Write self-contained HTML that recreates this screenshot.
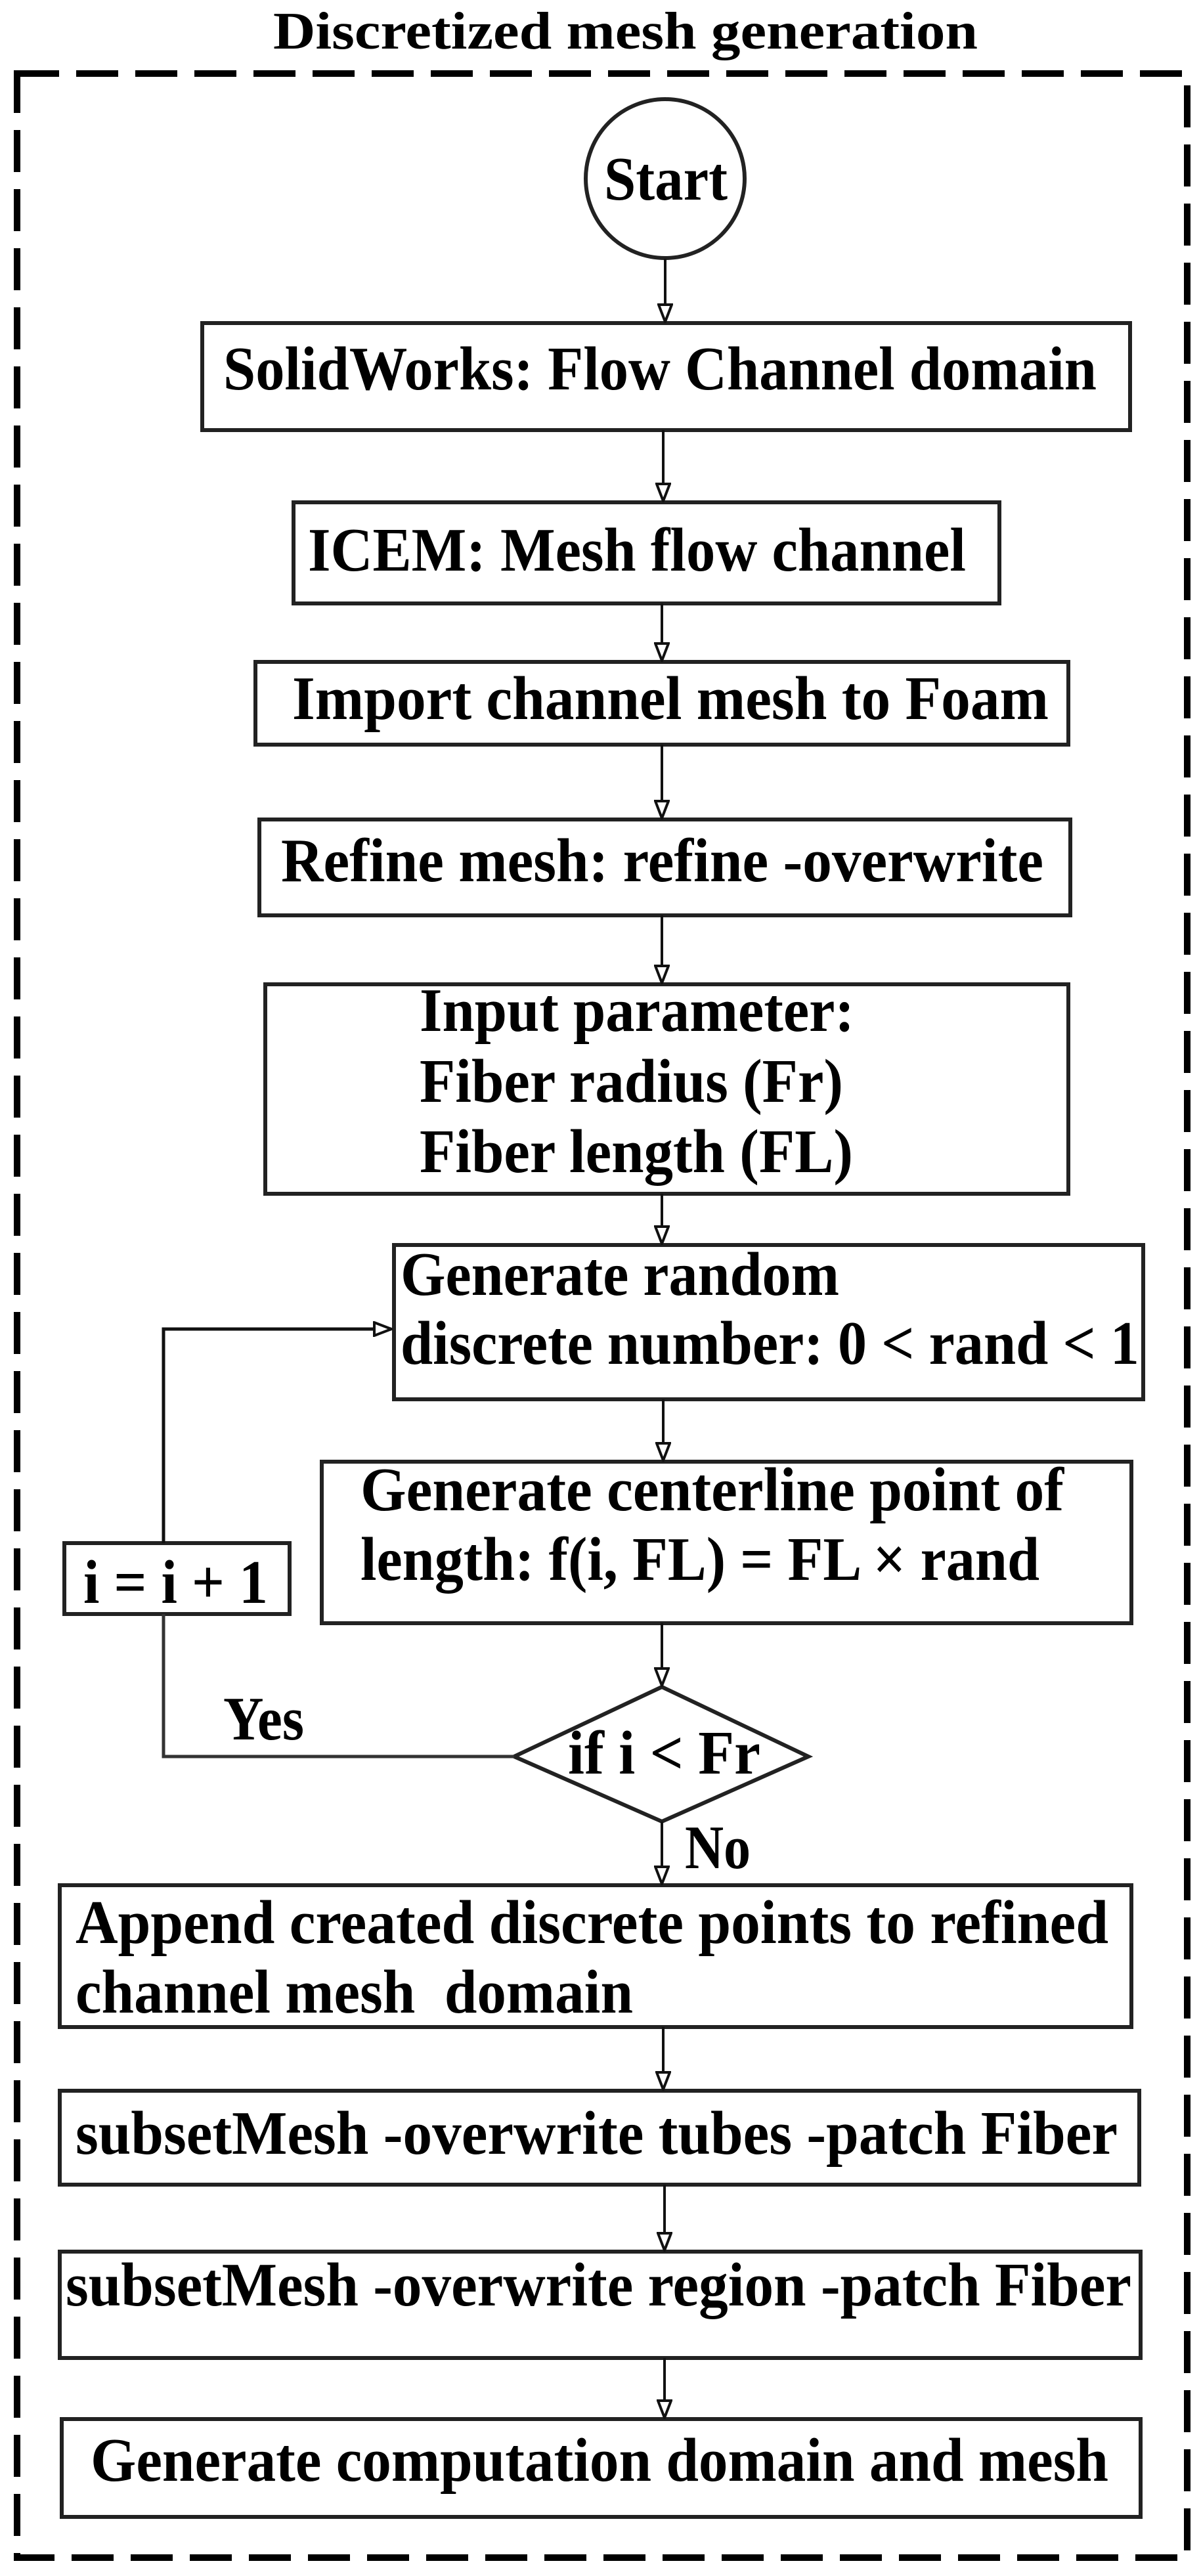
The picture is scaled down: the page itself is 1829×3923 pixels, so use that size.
<!DOCTYPE html>
<html><head><meta charset="utf-8"><style>html,body{margin:0;padding:0;background:#fff}svg{display:block}text{font-family:"Liberation Serif",serif;font-weight:bold;fill:#000}</style></head>
<body>
<svg width="1829" height="3923" viewBox="0 0 1829 3923" xmlns="http://www.w3.org/2000/svg">
<defs>
<marker id="h" markerWidth="30" markerHeight="24" refX="28" refY="12" orient="auto" markerUnits="userSpaceOnUse"><path d="M2,2 L28,12 L2,22 z" fill="#fff" stroke="#111" stroke-width="4"/></marker></defs>
<rect width="1829" height="3923" fill="#fff"/>
<text x="416" y="74" font-size="80" textLength="1073" lengthAdjust="spacingAndGlyphs">Discretized mesh generation</text>
<rect x="26" y="112" width="1782" height="3783" fill="none" stroke="#000" stroke-width="10" stroke-dasharray="64 26"/>
<g fill="none" stroke="#222" stroke-width="6">
<ellipse cx="1013" cy="272" rx="121" ry="121"/>
<rect x="308" y="492" width="1413" height="163"/>
<rect x="447" y="765" width="1075" height="154"/>
<rect x="389" y="1008" width="1238" height="126"/>
<rect x="395" y="1248" width="1235" height="146"/>
<rect x="404" y="1499" width="1223" height="319"/>
<rect x="600" y="1896" width="1141" height="235"/>
<rect x="490" y="2226" width="1233" height="246"/>
<rect x="98" y="2350" width="343" height="108"/>
<polygon points="1008,2569 1231,2675 1008,2774 783,2675"/>
<rect x="91" y="2871" width="1632" height="216"/>
<rect x="91" y="3184" width="1644" height="143"/>
<rect x="91" y="3429" width="1646" height="162"/>
<rect x="94" y="3684" width="1643" height="149"/>
</g>
<g stroke="#111" stroke-width="4" fill="none" marker-end="url(#h)">
<line x1="1013" y1="394" x2="1013" y2="490"/>
<line x1="1010" y1="655" x2="1010" y2="763"/>
<line x1="1008" y1="919" x2="1008" y2="1006"/>
<line x1="1008" y1="1134" x2="1008" y2="1246"/>
<line x1="1008" y1="1394" x2="1008" y2="1497"/>
<line x1="1008" y1="1818" x2="1008" y2="1894"/>
<line x1="1010" y1="2131" x2="1010" y2="2224"/>
<line x1="1008" y1="2472" x2="1008" y2="2567"/>
<line x1="1008" y1="2774" x2="1008" y2="2869"/>
<line x1="1010" y1="3087" x2="1010" y2="3182"/>
<line x1="1012" y1="3327" x2="1012" y2="3427"/>
<line x1="1012" y1="3591" x2="1012" y2="3682"/>
<polyline points="249,2350 249,2024 596,2024" stroke-width="5"/>
</g>
<polyline points="783,2675 249,2675 249,2458" fill="none" stroke="#333" stroke-width="5"/>
<text x="920" y="304" font-size="94" textLength="188" lengthAdjust="spacingAndGlyphs">Start</text>
<text x="340" y="593" font-size="94" textLength="1330" lengthAdjust="spacingAndGlyphs">SolidWorks: Flow Channel domain</text>
<text x="469" y="869" font-size="94" textLength="1002" lengthAdjust="spacingAndGlyphs">ICEM: Mesh flow channel</text>
<text x="445" y="1095" font-size="94" textLength="1152" lengthAdjust="spacingAndGlyphs">Import channel mesh to Foam</text>
<text x="428" y="1342" font-size="94" textLength="1161" lengthAdjust="spacingAndGlyphs">Refine mesh: refine -overwrite</text>
<text x="639" y="1570" font-size="94" textLength="662" lengthAdjust="spacingAndGlyphs">Input parameter:</text>
<text x="639" y="1678" font-size="94" textLength="645" lengthAdjust="spacingAndGlyphs">Fiber radius (Fr)</text>
<text x="639" y="1785" font-size="94" textLength="660" lengthAdjust="spacingAndGlyphs">Fiber length (FL)</text>
<text x="610" y="1972" font-size="94" textLength="668" lengthAdjust="spacingAndGlyphs">Generate random</text>
<text x="610" y="2077" font-size="94" textLength="1125" lengthAdjust="spacingAndGlyphs">discrete number: 0 &lt; rand &lt; 1</text>
<text x="549" y="2300" font-size="94" textLength="1071" lengthAdjust="spacingAndGlyphs">Generate centerline point of</text>
<text x="549" y="2406" font-size="94" textLength="1034" lengthAdjust="spacingAndGlyphs">length: f(i, FL) = FL × rand</text>
<text x="127" y="2441" font-size="94" textLength="281" lengthAdjust="spacingAndGlyphs">i = i + 1</text>
<text x="340" y="2649" font-size="94" textLength="123" lengthAdjust="spacingAndGlyphs">Yes</text>
<text x="865" y="2701" font-size="94" textLength="293" lengthAdjust="spacingAndGlyphs">if i &lt; Fr</text>
<text x="1043" y="2845" font-size="94" textLength="100" lengthAdjust="spacingAndGlyphs">No</text>
<text x="115" y="2959" font-size="94" textLength="1573" lengthAdjust="spacingAndGlyphs">Append created discrete points to refined</text>
<text x="115" y="3065" font-size="94" textLength="849" lengthAdjust="spacingAndGlyphs" xml:space="preserve">channel mesh  domain</text>
<text x="115" y="3280" font-size="94" textLength="1587" lengthAdjust="spacingAndGlyphs">subsetMesh -overwrite tubes -patch Fiber</text>
<text x="100" y="3511" font-size="94" textLength="1623" lengthAdjust="spacingAndGlyphs">subsetMesh -overwrite region -patch Fiber</text>
<text x="138" y="3778" font-size="94" textLength="1550" lengthAdjust="spacingAndGlyphs">Generate computation domain and mesh</text>
</svg>
</body></html>
